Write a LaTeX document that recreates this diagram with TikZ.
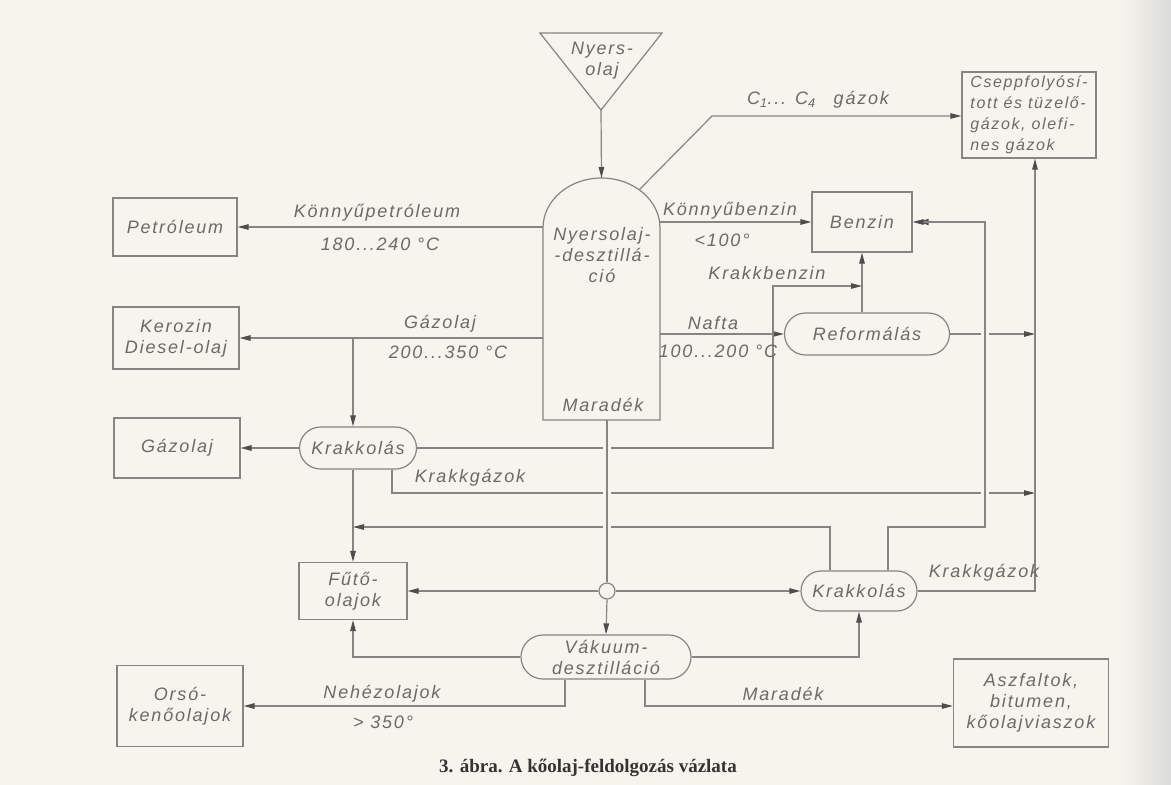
\documentclass[tikz,border=0pt]{standalone}
\usepackage{fontspec}
\setmainfont{Liberation Serif}
\newfontfamily\labfont[LetterSpace=10]{Liberation Sans}
\usetikzlibrary{arrows.meta,shapes.misc}
\definecolor{paper}{HTML}{F6F4EC}
\definecolor{ink}{HTML}{858585}
\definecolor{txt}{HTML}{6A6A6A}
\definecolor{tipc}{HTML}{4E4E4E}
\newcommand\lf{\labfont\itshape\fontsize{18}{21}\selectfont}
\newcommand\lfs{\labfont\itshape\fontsize{16}{21}\selectfont}
\newcommand\capfont{\fontsize{19}{22}\selectfont\bfseries}
\begin{document}
\begin{tikzpicture}[x=1pt,y=-1pt,
  conn/.style={draw=ink,line width=1.2pt},
  arr/.style={conn,-{Triangle[length=11pt,width=5.5pt,color=tipc]}},
  box/.style={draw=ink,line width=1.2pt,rectangle,align=center,font=\lf,text=txt,inner sep=1pt},
  proc/.style={draw=ink,line width=1.2pt,rounded rectangle,align=center,font=\lf,text=txt,inner sep=1pt},
  lbl/.style={font=\lf,text=txt,inner sep=0pt,align=center},
  gap/.style={preaction={draw=paper,line width=8pt,shorten <=5pt,shorten >=5pt}}]

% paper and page edge
\fill[paper] (0,0) rectangle (1171,785);
\shade[left color=paper,right color=black!14] (1120,0) rectangle (1171,785);
\useasboundingbox (0,0) rectangle (1171,785);

% feed: crude oil
\draw[conn] (540,33) -- (662,33) -- (601,110) -- cycle;
\coordinate (apex) at (601,110);
\node[lbl] (feed) at (602,61) {Nyers-\\olaj};

% distillation column
\node[inner sep=0pt,minimum width=117pt,minimum height=242pt] (col) at (601.5,299) {};
\draw[conn] (543,420) -- (543,228) arc[start angle=180,end angle=360,x radius=58.5,y radius=50] -- (660,420) -- cycle;
\coordinate (dtop) at (601.5,178);
\coordinate (domeC) at (639,190);
\node[lbl] (coltxt) at (602,255) {Nyersolaj-\\-desztillá-\\ció};
\node[lbl] (colres) at (603,405) {Maradék};

% product boxes
\node[box,minimum width=124pt,minimum height=58pt] (pet) at (175,227) {Petróleum};
\node[box,minimum width=126pt,minimum height=62pt] (ker) at (176,338) {Kerozin\\Diesel-olaj};
\node[box,minimum width=126pt,minimum height=60pt] (gaz) at (177,448) {Gázolaj};
\node[box,minimum width=108pt,minimum height=57pt] (fut) at (353,591) {Fűtő-\\olajok};
\node[box,minimum width=126pt,minimum height=81pt] (ors) at (180,706) {Orsó-\\kenőolajok};
\node[box,minimum width=155pt,minimum height=88pt] (asz) at (1031,703) {Aszfaltok,\\bitumen,\\kőolajviaszok};
\node[box,minimum width=100pt,minimum height=60pt] (ben) at (862,222) {Benzin};
\node[box,minimum width=134pt,minimum height=86pt,align=left,font=\lfs] (csep) at (1029,115) {Cseppfolyósí-\\tott és tüzelő-\\gázok, olefi-\\nes gázok};

% process units
\node[proc,minimum width=119pt,minimum height=42pt] (krL) at (358,448) {Krakkolás};
\node[proc,minimum width=118pt,minimum height=40pt] (krR) at (859,591) {Krakkolás};
\node[proc,minimum width=167pt,minimum height=42pt] (ref) at (867,334) {Reformálás};
\node[proc,minimum width=172pt,minimum height=44pt] (vak) at (606,657) {Vákuum-\\desztilláció};
\node[circle,draw=ink,line width=1.2pt,minimum size=16pt,inner sep=0pt] (circ) at (607,591) {};

% routing points
\coordinate (c14) at (712,116);
\coordinate (kbL) at (773,448);
\coordinate (kbU) at (773,286);
\coordinate (kgA) at (392,493);
\coordinate (busR) at (1035,591);
\coordinate (r888) at (888,527);
\coordinate (b985) at (985,527);
\coordinate (l830) at (830,527);
\coordinate (n565) at (565,706);
\coordinate (m645) at (645,706);

% connectors
\draw[arr] (apex) -- (dtop);
\draw[arr] (domeC) -- (c14) -- (csep.west |- c14);
\draw[arr] (col.west |- pet) -- (pet.east);
\draw[arr] (col.east |- ben) -- (ben.west);
\draw[arr] (col.west |- ker) -- (ker.east);
\draw[arr] (fut |- ker) -- (fut |- krL.north);
\draw[arr] (col.east |- ref) -- (ref.west);
\draw[arr] (ben |- ref.north) -- (ben.south);
\draw[arr] (ref.east) -- (busR |- ref.east);
\draw[arr] (krL.west) -- (gaz.east);
\draw[arr] (krL.east) -- (kbL) -- (kbU) -- (ben |- kbU);
\draw[arr] (krL.south -| kgA) -- (kgA) -- (busR |- kgA);
\draw[arr] (fut |- krL.south) -- (fut.north);
\draw[arr] (krR.north -| l830) -- (l830) -- (fut |- l830);
\draw[arr,gap] (krR.north -| r888) -- (r888) -- (b985) -- (b985 |- ben.east) -- (ben.east);
\draw[arr] (krR.east) -- (busR) -- (csep.south -| busR);
\draw[conn,gap] (col.south -| circ) -- (circ.north);
\draw[arr] (circ.west) -- (fut.east);
\draw[arr] (circ.east) -- (krR.west);
\draw[arr] (circ.south) -- (vak.north);
\draw[arr] (vak.west) -- (fut |- vak.west) -- (fut.south);
\draw[arr] (vak.east) -- (krR |- vak.east) -- (krR.south);
\draw[arr] (vak.south -| n565) -- (n565) -- (ors.east |- n565);
\draw[arr] (vak.south -| m645) -- (m645) -- (asz.west |- m645);

% stream labels
\node[lbl] (l1) at (377,213) {Könnyűpetróleum};
\node[lbl] (l2) at (380,244) {180...240 °C};
\node[lbl] (l3) at (440,324) {Gázolaj};
\node[lbl] (l4) at (448,352) {200...350 °C};
\node[lbl] (l5) at (730,211) {Könnyűbenzin};
\node[lbl] (l6) at (722,240) {<100°};
\node[lbl] (l7) at (767,273) {Krakkbenzin};
\node[lbl] (l8) at (713,323) {Nafta};
\node[lbl] (l9) at (718,351) {100...200 °C};
\node[lbl] (l10) at (818,100) {C\textsubscript{1}... C\textsubscript{4}\quad gázok};
\node[lbl] (l11) at (470,478) {Krakkgázok};
\node[lbl] (l12) at (984,573) {Krakkgázok};
\node[lbl] (l13) at (382,694) {Nehézolajok};
\node[lbl] (l14) at (383,722) {> 350°};
\node[lbl] (l15) at (783,694) {Maradék};

% caption
\node[font=\capfont,text=black!80,inner sep=0pt] (cap) at (588,768) {3. ábra. A kőolaj-feldolgozás vázlata};
\end{tikzpicture}
\end{document}
